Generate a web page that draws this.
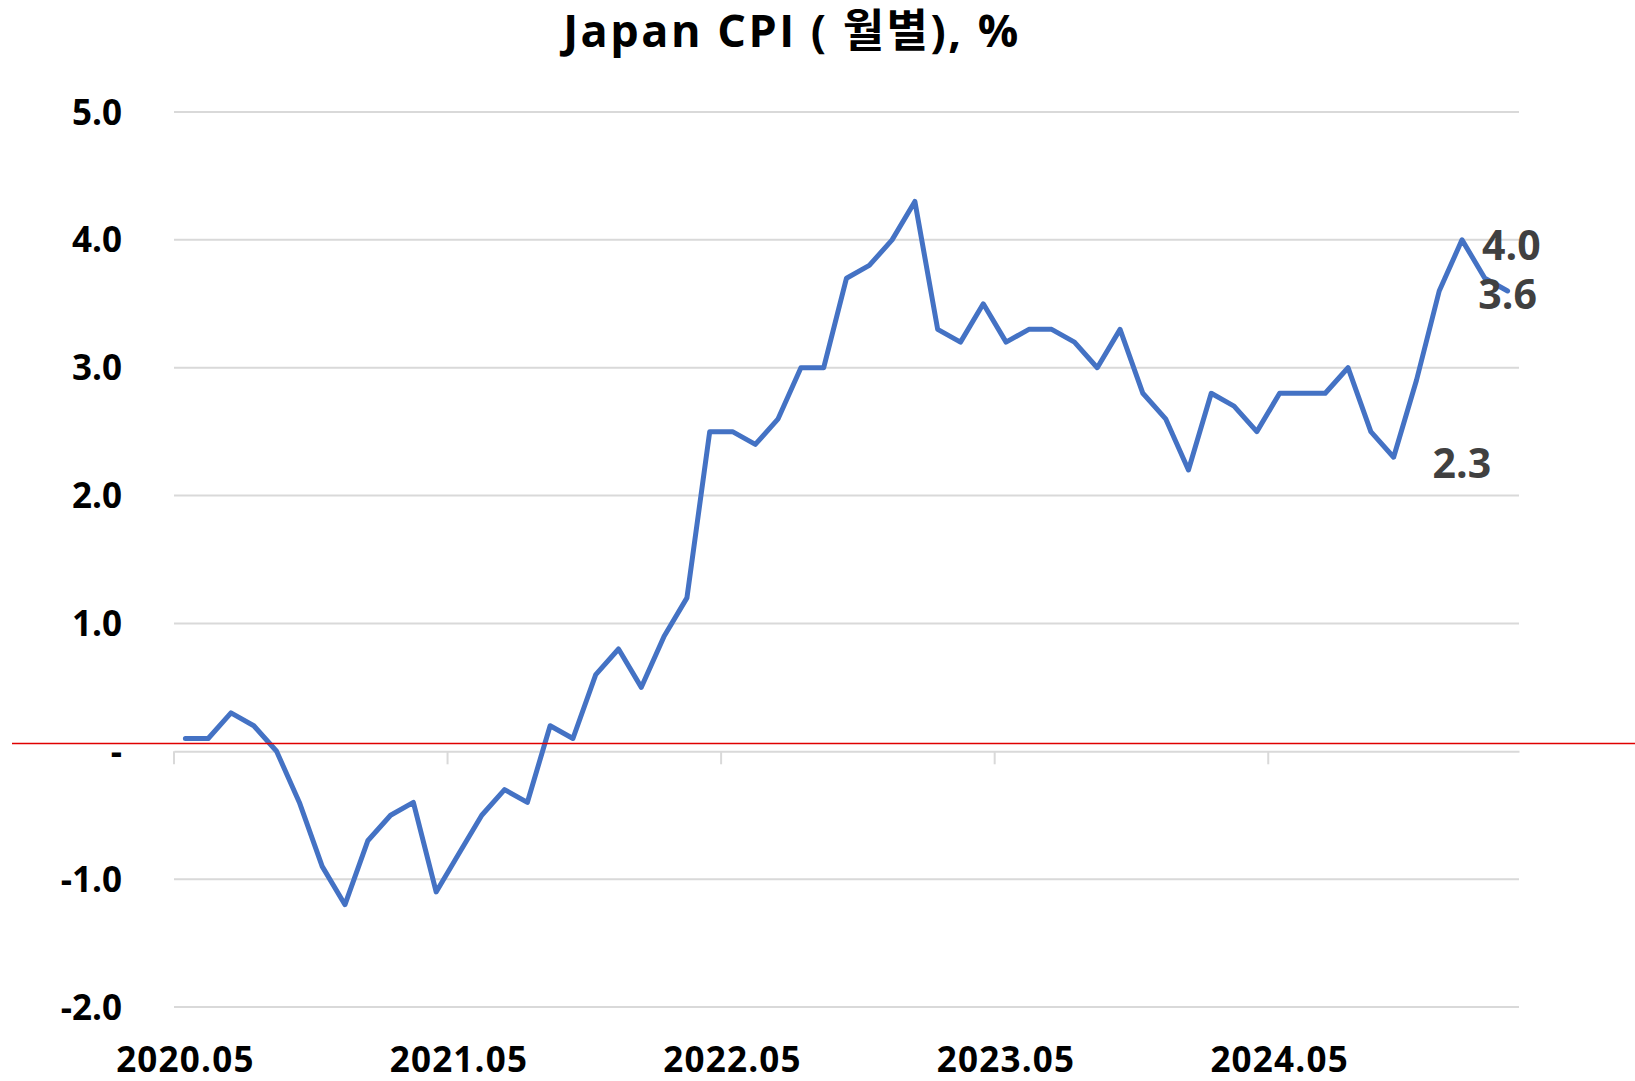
<!DOCTYPE html>
<html>
<head>
<meta charset="utf-8">
<script src="https://cdn.jsdelivr.net/npm/d3@7"></script>
<style>
  body { margin: 0; background: #fff; }
  svg { display: block; font-family: 'Open Sans', 'Noto Sans CJK KR', sans-serif; }
</style>
</head>
<body>
<div class="chart"></div>
<script>
// monthly Japan CPI, y/y %, 2020.05 - 2025.03
const months = d3.timeMonth
  .range(new Date(2020, 4, 1), new Date(2025, 3, 1))
  .map(d3.timeFormat('%Y.%m'))

const cpi = [
  0.1, 0.1, 0.3, 0.2, 0.0, -0.4, -0.9, -1.2,
  -0.7, -0.5, -0.4, -1.1, -0.8, -0.5, -0.3, -0.4, 0.2, 0.1, 0.6, 0.8,
  0.5, 0.9, 1.2, 2.5, 2.5, 2.4, 2.6, 3.0, 3.0, 3.7, 3.8, 4.0,
  4.3, 3.3, 3.2, 3.5, 3.2, 3.3, 3.3, 3.2, 3.0, 3.3, 2.8, 2.6,
  2.2, 2.8, 2.7, 2.5, 2.8, 2.8, 2.8, 3.0, 2.5, 2.3, 2.9, 3.6,
  4.0, 3.7, 3.6
]

const xTickLabels = ['2020.05', '2021.05', '2022.05', '2023.05', '2024.05']
const yTicks = [-2, -1, 0, 1, 2, 3, 4, 5]
const labelled = [
  { month: '2024.10', place: 'right' },
  { month: '2025.01', place: 'right' },
  { month: '2025.03', place: 'center' }
]
const refValue = 0.06

const width = 1635
const height = 1081
const margin = { top: 112, right: 116, bottom: 74, left: 174 }

const fmt = (v) => v.toFixed(1)

const svg = d3
  .select('.chart')
  .append('svg')
  .attr('width', width)
  .attr('height', height)

const x = d3
  .scaleBand()
  .domain(months)
  .range([margin.left, width - margin.right])
  .padding(0)

const y = d3
  .scaleLinear()
  .domain([-2, 5])
  .range([height - margin.bottom, margin.top])

const cx = (m) => x(m) + x.bandwidth() / 2

// title
svg
  .append('text')
  .attr('x', 792)
  .attr('y', 47)
  .attr('text-anchor', 'middle')
  .attr('font-size', 45)
  .attr('font-weight', 700)
  .attr('letter-spacing', 2.5)
  .attr('fill', '#000')
  .text('Japan CPI ( 월별), %')

// gridlines
svg
  .append('g')
  .selectAll('line')
  .data(yTicks.filter((d) => d !== 0))
  .join('line')
  .attr('x1', margin.left)
  .attr('x2', width - margin.right)
  .attr('y1', (d) => y(d))
  .attr('y2', (d) => y(d))
  .attr('stroke', '#d9d9d9')
  .attr('stroke-width', 2)

// y labels
svg
  .append('g')
  .selectAll('text')
  .data(yTicks)
  .join('text')
  .attr('x', 122)
  .attr('y', (d) => y(d))
  .attr('dy', '0.36em')
  .attr('text-anchor', 'end')
  .attr('font-size', 35)
  .attr('font-weight', 700)
  .attr('fill', '#000')
  .text((d) => (d === 0 ? '-' : fmt(d)))

// category axis at zero
const xAxis = d3
  .axisBottom(x)
  .tickValues(xTickLabels)
  .tickSize(0)
  .tickFormat('')

const axisG = svg
  .append('g')
  .attr('transform', `translate(0,${y(0)})`)
  .call(xAxis)
axisG.select('.domain').attr('stroke', '#d9d9d9').attr('stroke-width', 2)

axisG
  .selectAll('.tickmark')
  .data(xTickLabels)
  .join('line')
  .attr('class', 'tickmark')
  .attr('x1', (d) => x(d))
  .attr('x2', (d) => x(d))
  .attr('y1', 0)
  .attr('y2', 13)
  .attr('stroke', '#d9d9d9')
  .attr('stroke-width', 2)

// x labels along the bottom
svg
  .append('g')
  .selectAll('text')
  .data(xTickLabels)
  .join('text')
  .attr('x', (d) => cx(d))
  .attr('y', 1072)
  .attr('text-anchor', 'middle')
  .attr('font-size', 35)
  .attr('font-weight', 700)
  .attr('letter-spacing', 1.2)
  .attr('fill', '#000')
  .text((d) => d)

// series line
const line = d3
  .line()
  .x((d, i) => cx(months[i]))
  .y((d) => y(d))

svg
  .append('path')
  .datum(cpi)
  .attr('fill', 'none')
  .attr('stroke', '#4472c4')
  .attr('stroke-width', 5)
  .attr('stroke-linejoin', 'round')
  .attr('stroke-linecap', 'round')
  .attr('d', line)

// red reference line
svg
  .append('line')
  .attr('x1', 12)
  .attr('x2', width)
  .attr('y1', y(refValue))
  .attr('y2', y(refValue))
  .attr('stroke', '#e00000')
  .attr('stroke-width', 1.5)

// data labels
svg
  .append('g')
  .selectAll('text')
  .data(labelled)
  .join('text')
  .attr('x', (d) => cx(d.month) + (d.place === 'right' ? 20 : 0))
  .attr('y', (d) => y(cpi[months.indexOf(d.month)]))
  .attr('dx', (d) => (d.month === '2024.10' ? 19 : 0))
  .attr('dy', (d) => (d.place === 'right' ? '0.5em' : '0.45em'))
  .attr('text-anchor', (d) => (d.place === 'right' ? 'start' : 'middle'))
  .attr('font-size', 41)
  .attr('font-weight', 700)
  .attr('fill', '#404040')
  .text((d) => fmt(cpi[months.indexOf(d.month)]))
</script>
</body>
</html>
